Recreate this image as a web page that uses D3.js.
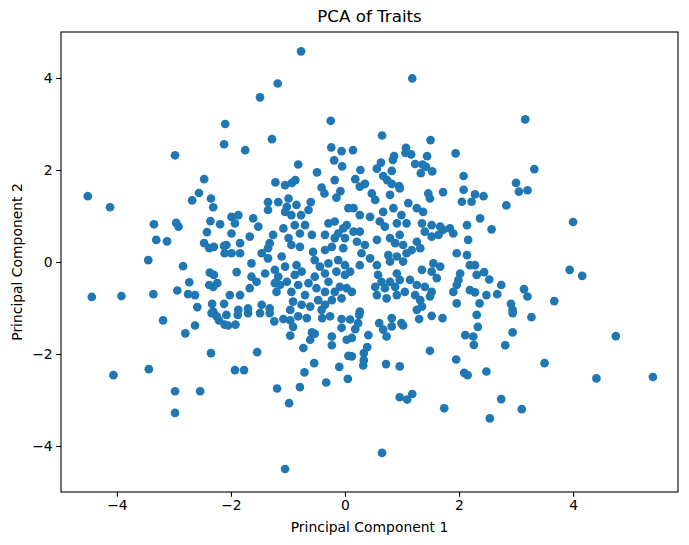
<!DOCTYPE html>
<html>
<head>
<meta charset="utf-8">
<script src="https://cdn.jsdelivr.net/npm/d3@7"></script>
<style>
  html, body { margin: 0; padding: 0; background: #fff; }
  svg { display: block; font-family: "DejaVu Sans", sans-serif; }
</style>
</head>
<body>
<svg id="chart" width="689" height="545"></svg>
<script>
const chartTitle = "PCA of Traits";
const xLabel = "Principal Component 1";
const yLabel = "Principal Component 2";
const xTicks = [-4, -2, 0, 2, 4];
const yTicks = [-4, -2, 0, 2, 4];

const pc1 = [
-2.98,-2.47,-0.77,-1.18,-1.49,-2.10,-0.25,-2.12,-1.75,-1.28,-0.24,-0.06,0.14,-0.19,-0.05,-0.82,-0.49,0.27,-0.18,0.18,0.35,-1.22,-1.05,-0.87,-0.93,
1.18,3.16,0.65,1.50,1.07,1.06,1.16,0.86,0.84,1.44,1.94,0.63,0.56,0.82,1.23,1.36,1.42,1.53,1.33,2.08,0.67,0.74,0.82,0.95,3.00,3.32,
-4.12,-2.56,-2.68,-2.35,-2.31,-3.35,-2.96,-2.92,-2.36,-2.19,-2.42,-3.31,-3.12,-2.47,-2.38,-2.30,-2.12,-2.11,-3.45,-2.84,-2.37,-2.30,-2.73,-2.38,-2.24,-2.31,-3.92,-3.36,-2.94,-2.75,-2.63,-2.59,-2.33,-2.12,-2.31,
-0.41,-0.36,-0.08,-0.15,-1.35,-1.17,-0.99,-1.02,-0.85,-0.60,-0.64,-1.05,-0.94,-0.77,-1.35,0.06,-1.99,-1.87,-1.93,-1.61,-1.52,-1.08,-0.88,-0.70,-0.79,-0.58,-0.99,-1.26,-1.32,-1.67,-1.99,-1.84,-2.08,
-0.29,-0.18,-0.03,0.03,-0.35,-0.18,0.00,-0.12,-1.99,-1.84,-1.46,-1.35,-0.94,-0.79,-0.56,-0.35,-0.23,-0.03,-1.64,-1.35,-1.11,-0.85,-1.05,-0.53,-0.44,-0.29,-0.12,0.00,
-1.90,-1.40,-1.23,-1.17,-0.88,-0.76,-0.53,-0.35,-0.15,0.00,-1.64,-1.55,-1.23,-1.14,-1.02,-0.82,-0.64,-0.50,-0.29,-0.09,0.03,-2.02,-1.84,-1.67,-1.20,-0.94,-0.70,-0.35,-0.18,-0.47,
-1.46,-1.32,-1.70,-1.87,-0.91,-0.76,-0.61,-0.23,-0.06,-0.35,-0.96,-0.41,
0.26,0.47,0.53,0.79,0.96,1.46,1.49,1.72,2.08,2.22,2.05,0.15,0.26,0.44,0.67,0.85,0.99,1.11,1.26,1.37,1.08,0.91,0.61,0.70,1.35,1.52,1.67,1.84,2.14,1.40,1.52,1.64,1.72,1.90,2.16,
0.15,0.26,0.21,0.35,0.56,0.79,0.88,0.96,1.02,1.26,1.32,0.29,0.44,0.56,0.76,0.91,1.08,1.17,0.79,1.02,1.55,1.67,1.35,1.52,1.61,1.96,2.14,2.19,2.02,
0.09,0.26,0.58,0.64,0.91,0.96,0.79,0.70,0.53,0.88,1.14,1.26,1.40,1.52,1.49,1.05,1.99,1.96,2.19,0.12,0.56,0.73,0.91,1.23,1.32,1.35,1.90,1.96,0.26,1.26,
2.28,2.43,3.05,3.20,2.83,2.37,2.57,4.00,2.28,2.44,2.31,2.53,2.74,3.94,4.16,2.28,2.48,2.67,3.14,3.20,2.36,3.67,2.91,2.94,
-3.19,-2.63,-2.80,-2.34,-2.25,-2.21,-2.11,-2.35,-3.44,-4.06,-2.98,-2.54,-2.98,
-2.08,-1.88,-2.05,-1.92,-1.70,-1.49,-1.32,-1.24,-1.08,-0.96,-0.91,-0.82,-0.67,-0.96,-0.58,-0.53,-0.61,-0.73,-0.40,-0.26,-0.06,-0.06,-0.23,-0.23,0.03,0.06,-1.54,-0.54,-1.93,-1.77,-0.71,-0.10,-0.33,0.05,-1.19,-0.79,-0.98,
0.09,0.25,0.23,0.18,0.12,0.41,0.60,0.67,0.73,0.82,0.82,0.99,1.02,1.30,1.52,1.71,0.39,0.33,0.12,0.33,0.32,0.72,0.96,1.49,1.95,2.11,2.25,2.26,2.09,2.15,0.96,1.09,1.18,1.74,
2.31,2.94,3.27,2.33,2.94,2.81,3.50,2.48,4.41,2.74,3.10,2.54,
-4.51,-4.44,4.75,5.40,-1.05,0.65
];

const pc2 = [
2.32,1.80,4.58,3.88,3.58,3.00,3.07,2.56,2.43,2.67,2.49,2.41,2.43,2.21,2.08,2.12,1.95,2.00,1.78,1.80,1.70,1.73,1.67,1.78,1.72,
3.99,3.10,2.75,2.65,2.48,2.37,2.34,2.30,2.22,2.30,2.36,2.16,2.03,1.98,2.13,2.12,2.07,1.97,1.93,1.87,1.87,1.78,1.70,1.65,1.72,2.02,
1.19,1.50,1.34,1.38,1.19,0.82,0.85,0.77,0.89,0.82,0.65,0.48,0.45,0.41,0.30,0.33,0.35,0.19,0.04,-0.09,-0.23,-0.28,-0.44,-0.50,-0.46,-0.54,-0.74,-0.70,-0.62,-0.70,-0.72,-0.98,-0.91,-0.91,-1.08,
1.62,1.49,1.54,1.40,1.30,1.30,1.38,1.20,1.24,1.30,1.13,1.09,1.02,1.02,1.13,1.17,0.98,1.02,0.84,0.95,0.77,0.73,0.80,0.80,0.62,0.59,0.52,0.59,0.41,0.55,0.62,0.41,0.37,
0.84,0.88,0.73,0.80,0.59,0.52,0.52,0.62,0.19,0.19,0.19,0.30,0.37,0.33,0.22,0.26,0.33,0.30,-0.03,0.08,0.12,-0.07,-0.10,0.04,-0.10,-0.03,0.04,-0.07,
-0.22,-0.25,-0.17,-0.32,-0.28,-0.21,-0.32,-0.25,-0.21,-0.28,-0.32,-0.43,-0.46,-0.50,-0.43,-0.50,-0.46,-0.57,-0.43,-0.54,-0.57,-0.72,-0.72,-0.57,-0.65,-0.65,-0.72,-0.65,-0.65,-0.83,
-0.93,-1.01,-1.01,-1.04,-0.86,-0.93,-0.97,-0.83,-0.79,-0.93,-1.04,-1.04,
1.64,1.49,1.35,1.46,1.60,1.49,1.38,1.52,1.57,1.31,1.31,1.17,1.02,0.98,1.09,1.17,1.02,1.28,1.17,1.09,0.84,0.84,0.88,0.77,0.84,0.80,0.77,0.73,0.80,0.66,0.55,0.59,0.70,0.62,0.48,
0.66,0.66,0.44,0.37,0.48,0.52,0.41,0.59,0.37,0.44,0.30,0.19,0.08,-0.07,0.15,0.12,0.19,0.26,0.01,0.01,-0.03,-0.10,-0.17,-0.21,-0.35,0.19,0.15,-0.07,-0.25,
-0.21,-0.07,-0.28,-0.43,-0.25,-0.39,-0.43,-0.57,-0.54,-0.54,-0.39,-0.50,-0.54,-0.65,-0.75,-0.65,-0.39,-0.50,-0.61,-0.65,-0.72,-0.79,-0.72,-0.72,-0.83,-0.97,-0.65,-0.90,-1.08,-1.04,
1.47,1.43,1.53,1.56,1.23,0.95,0.71,0.87,-0.07,-0.22,-0.28,-0.38,-0.50,-0.17,-0.30,-0.66,-0.72,-0.70,-0.59,-0.75,-0.90,-0.85,-0.91,-1.04,
-1.27,-1.38,-1.55,-1.11,-1.18,-1.27,-1.36,-1.98,-2.33,-2.46,-2.81,-2.81,-3.28,
-1.15,-1.15,-1.38,-1.36,-1.11,-1.11,-1.11,-1.29,-1.24,-1.27,-1.41,-1.18,-1.22,-1.60,-1.53,-1.56,-1.69,-1.87,-1.22,-1.18,-1.24,-1.43,-1.62,-1.81,-1.69,-2.04,-1.96,-2.20,-2.35,-2.35,-2.40,-2.28,-2.62,-2.54,-2.75,-2.72,-3.07,
-1.25,-1.15,-1.33,-1.46,-1.65,-1.59,-1.33,-1.47,-1.62,-1.22,-1.40,-1.33,-1.38,-1.24,-1.17,-1.22,-1.85,-1.98,-2.05,-2.14,-2.25,-2.22,-2.27,-1.93,-2.12,-1.59,-1.62,-1.80,-2.41,-2.46,-2.94,-2.99,-2.87,-3.18,
-1.15,-1.11,-1.20,-1.41,-1.53,-1.81,-2.20,-2.38,-2.53,-2.98,-3.20,-3.40,
1.43,-0.76,-1.61,-2.50,-4.50,-4.15
];

const W = 689, H = 545;
const plot = { left: 61, right: 678, top: 32, bottom: 492 };
const svg = d3.select("#chart");

svg.append("rect").attr("width", W).attr("height", H).attr("fill", "#fff");

const x = d3.scaleLinear().domain([-4.98, 5.84]).range([plot.left, plot.right]);
const y = d3.scaleLinear().domain([-5.0, 5.0]).range([plot.bottom, plot.top]);

const points = pc1.map((v, i) => ({ x: v, y: pc2[i] }));

svg.append("g")
  .selectAll("circle")
  .data(points)
  .join("circle")
  .attr("cx", d => x(d.x))
  .attr("cy", d => y(d.y))
  .attr("r", 4.35)
  .attr("fill", "#1f77b4");

const fmt = d3.format("d");
const xAxis = svg.append("g")
  .attr("transform", `translate(0,${plot.bottom})`)
  .call(d3.axisBottom(x).tickValues(xTicks).tickFormat(fmt).tickSize(4.86).tickPadding(3.5).tickSizeOuter(0));
const yAxis = svg.append("g")
  .attr("transform", `translate(${plot.left},0)`)
  .call(d3.axisLeft(y).tickValues(yTicks).tickFormat(fmt).tickSize(4.86).tickPadding(3.5).tickSizeOuter(0));

[xAxis, yAxis].forEach(g => {
  g.select(".domain").remove();
  g.selectAll(".tick line").attr("stroke", "#000").attr("stroke-width", 1.1);
  g.selectAll(".tick text").attr("fill", "#000").style("font-size", "13.9px").style("font-family", "'DejaVu Sans', sans-serif");
});

svg.append("rect")
  .attr("x", plot.left).attr("y", plot.top)
  .attr("width", plot.right - plot.left).attr("height", plot.bottom - plot.top)
  .attr("fill", "none").attr("stroke", "#000").attr("stroke-width", 1.1);

svg.append("text")
  .attr("x", (plot.left + plot.right) / 2).attr("y", 22)
  .attr("text-anchor", "middle")
  .style("font-size", "16.7px")
  .text(chartTitle);

svg.append("text")
  .attr("x", (plot.left + plot.right) / 2).attr("y", 532)
  .attr("text-anchor", "middle")
  .style("font-size", "13.9px")
  .text(xLabel);

svg.append("text")
  .attr("transform", `translate(22,${(plot.top + plot.bottom) / 2}) rotate(-90)`)
  .attr("text-anchor", "middle")
  .style("font-size", "13.9px")
  .text(yLabel);
</script>
</body>
</html>
